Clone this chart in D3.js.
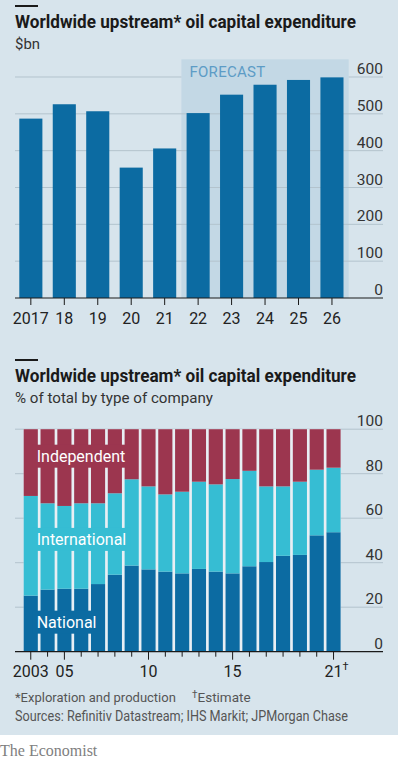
<!DOCTYPE html>
<html>
<head>
<meta charset="utf-8">
<script src="https://cdn.jsdelivr.net/npm/d3@7"></script>
<style>
  body { margin: 0; background: #fff; }
  svg { display: block; font-family: Roboto, "Open Sans", sans-serif; }
</style>
</head>
<body>
<svg id="chart" width="398" height="765"></svg>
<script>
// top chart: $bn by year
var capexYears = ["2017", "18", "19", "20", "21", "22", "23", "24", "25", "26"];
var capexValues = [487, 526, 507, 354, 406, 502, 552, 579, 592, 599];
var forecastYears = ["22", "23", "24", "25", "26"];
var capexTicks = [0, 100, 200, 300, 400, 500, 600];

// bottom chart: % of total by type of company
var shareYears = [2003, 2004, 2005, 2006, 2007, 2008, 2009, 2010, 2011, 2012,
                  2013, 2014, 2015, 2016, 2017, 2018, 2019, 2020, 2021];
var national = [25.2, 27.9, 28.3, 28.3, 30.4, 34.6, 38.7, 37.0, 36.0, 35.2,
                37.2, 36.0, 35.2, 38.4, 40.3, 43.1, 43.5, 52.3, 53.7];
var international = [44.8, 38.8, 37.2, 38.4, 36.3, 36.6, 38.8, 37.3, 34.7, 36.7,
                     39.2, 39.2, 42.4, 42.9, 34.0, 31.2, 32.9, 29.5, 29.0];
var independent = [30.0, 33.3, 34.5, 33.3, 33.3, 28.8, 22.5, 25.7, 29.3, 28.1,
                   23.6, 24.8, 22.4, 18.7, 25.7, 25.7, 23.6, 18.2, 17.3];
var shareTicks = [0, 20, 40, 60, 80, 100];
var shareTickLabels = {2003: "2003", 2005: "05", 2010: "10", 2015: "15", 2021: "21"};

var BG = "#d7e4ec", GRID = "#b3c3cd", DARK = "#1a1a1a";
var BLUE = "#0c6ba2", CYAN = "#36bdd3", RED = "#9c364f";

var svg = d3.select("#chart");
svg.append("rect").attr("width", 398).attr("height", 735).attr("fill", BG);

// squeeze a text to a width, the font is wider than the original
function fit(sel, w) {
  sel.attr("textLength", w).attr("lengthAdjust", "spacingAndGlyphs");
  return sel;
}

function header(top, title, sub, subW) {
  svg.append("rect").attr("x", 15).attr("y", top).attr("width", 23).attr("height", 2).attr("fill", DARK);
  fit(svg.append("text").attr("x", 15).attr("y", top + 23)
    .attr("font-size", 19).attr("font-weight", 700).attr("fill", DARK).text(title), 341);
  fit(svg.append("text").attr("x", 15).attr("y", top + 44)
    .attr("font-size", 15).attr("fill", "#333").text(sub), subW);
}

// ---------- top chart ----------
header(5, "Worldwide upstream* oil capital expenditure", "$bn", 25);

var y1 = d3.scaleLinear().domain([0, 600]).range([298, 77]);
var x1 = d3.scaleBand().domain(capexYears).range([19.3, 343.5]).paddingInner(0.31).paddingOuter(0);
var gap1 = x1.step() - x1.bandwidth();

// forecast shading
var fx0 = x1(forecastYears[0]) - gap1 / 2;
var fx1 = x1(forecastYears[forecastYears.length - 1]) + x1.bandwidth() + gap1 / 2;
svg.append("rect").attr("x", fx0).attr("y", y1(648)).attr("width", fx1 - fx0)
  .attr("height", y1(0) - y1(648)).attr("fill", "#c3d8e5");

var g1 = svg.append("g");
g1.selectAll("line.grid").data(capexTicks.filter(function(d) { return d > 0 && d < 600; })).join("line")
  .attr("x1", 15).attr("x2", 383).attr("y1", function(d) { return y1(d); }).attr("y2", function(d) { return y1(d); })
  .attr("stroke", GRID).attr("stroke-width", 1);
g1.append("line").attr("x1", 15).attr("x2", fx0).attr("y1", y1(600)).attr("y2", y1(600))
  .attr("stroke", GRID);
g1.append("line").attr("x1", fx1).attr("x2", 383).attr("y1", y1(600)).attr("y2", y1(600))
  .attr("stroke", GRID);

g1.append("text").attr("x", fx0 + 8).attr("y", y1(600)).attr("font-size", 15)
  .attr("fill", "#5d9cc6").attr("letter-spacing", 0.3).text("FORECAST");

g1.selectAll("rect.bar").data(capexValues).join("rect")
  .attr("x", function(d, i) { return x1(capexYears[i]); })
  .attr("y", function(d) { return y1(d); })
  .attr("width", x1.bandwidth())
  .attr("height", function(d) { return y1(0) - y1(d); })
  .attr("fill", BLUE);

svg.append("line").attr("x1", 15).attr("x2", 383).attr("y1", y1(0)).attr("y2", y1(0))
  .attr("stroke", DARK).attr("stroke-width", 1.2);

svg.selectAll("text.ylab1").data(capexTicks).join("text").attr("class", "ylab1")
  .attr("x", 383).attr("y", function(d) { return y1(d) - 3; })
  .attr("text-anchor", "end").attr("font-size", 15.5).attr("fill", "#333").text(function(d) { return d; });

svg.selectAll("line.tick1").data(capexYears).join("line").attr("class", "tick1")
  .attr("x1", function(d) { return x1(d) + x1.bandwidth() / 2; })
  .attr("x2", function(d) { return x1(d) + x1.bandwidth() / 2; })
  .attr("y1", y1(0)).attr("y2", y1(0) + 7).attr("stroke", DARK);

svg.selectAll("text.xlab1").data(capexYears).join("text").attr("class", "xlab1")
  .attr("x", function(d) { return x1(d) + x1.bandwidth() / 2; })
  .attr("y", 324).attr("text-anchor", "middle").attr("font-size", 16).attr("fill", "#222")
  .text(function(d) { return d; });

// ---------- bottom chart ----------
header(359, "Worldwide upstream* oil capital expenditure", "% of total by type of company", 198);

var y2 = d3.scaleLinear().domain([0, 100]).range([651.7, 429.2]);
var x2 = d3.scaleBand().domain(shareYears).range([23.7, 340.6]).paddingInner(0.16).paddingOuter(0);

svg.selectAll("line.grid2").data(shareTicks.filter(function(d) { return d > 0; })).join("line").attr("class", "grid2")
  .attr("x1", 15).attr("x2", 383).attr("y1", function(d) { return y2(d); }).attr("y2", function(d) { return y2(d); })
  .attr("stroke", GRID);

// light gaps between the columns
svg.append("rect").attr("x", x2(shareYears[0])).attr("y", y2(100))
  .attr("width", x2(shareYears[shareYears.length - 1]) + x2.bandwidth() - x2(shareYears[0]))
  .attr("height", y2(0) - y2(100)).attr("fill", "#e8eff4");

var rows = shareYears.map(function(yr, i) {
  return { year: yr, national: national[i], international: international[i], independent: independent[i] };
});
var keys = ["national", "international", "independent"];
var colors = { national: BLUE, international: CYAN, independent: RED };
var series = d3.stack().keys(keys)(rows);

var g2 = svg.append("g");
g2.selectAll("g").data(series).join("g")
  .attr("fill", function(s) { return colors[s.key]; })
  .selectAll("rect").data(function(s) { return s; }).join("rect")
  .attr("x", function(d) { return x2(d.data.year); })
  .attr("y", function(d) { return y2(d[1]); })
  .attr("width", x2.bandwidth())
  .attr("height", function(d) { return y2(d[0]) - y2(d[1]); });

// in-chart labels with knock-out boxes
var labels = [
  { text: "Independent", key: "independent", v: 85.4 },
  { text: "International", key: "international", v: 48 },
  { text: "National", key: "national", v: 10.8 }
];
labels.forEach(function(l) {
  var lx = x2(shareYears[0]) + 13;
  var box = svg.append("rect").attr("fill", colors[l.key]);
  var t = svg.append("text").attr("x", lx).attr("y", y2(l.v)).attr("font-size", 16)
    .attr("fill", "#fff").text(l.text);
  var w = t.node().getComputedTextLength();
  box.attr("x", lx - 4).attr("y", y2(l.v) - 17).attr("width", w + 8).attr("height", 23);
});

svg.append("line").attr("x1", 15).attr("x2", 383).attr("y1", y2(0)).attr("y2", y2(0))
  .attr("stroke", DARK).attr("stroke-width", 1.2);

svg.selectAll("text.ylab2").data(shareTicks).join("text").attr("class", "ylab2")
  .attr("x", 383).attr("y", function(d) { return y2(d) - 3; })
  .attr("text-anchor", "end").attr("font-size", 15.5).attr("fill", "#333").text(function(d) { return d; });

svg.selectAll("line.tick2").data(shareYears).join("line").attr("class", "tick2")
  .attr("x1", function(d) { return x2(d) + x2.bandwidth() / 2; })
  .attr("x2", function(d) { return x2(d) + x2.bandwidth() / 2; })
  .attr("y1", y2(0)).attr("y2", function(d) { return y2(0) + (shareTickLabels[d] ? 8 : 5); })
  .attr("stroke", DARK);

svg.selectAll("text.xlab2").data(shareYears.filter(function(d) { return shareTickLabels[d]; })).join("text")
  .attr("class", "xlab2")
  .attr("x", function(d) { return x2(d) + x2.bandwidth() / 2; })
  .attr("y", 677).attr("text-anchor", "middle").attr("font-size", 16).attr("fill", "#222")
  .text(function(d) { return shareTickLabels[d]; });
svg.append("text").attr("x", x2(2021) + x2.bandwidth() / 2 + 9).attr("y", 670)
  .attr("font-size", 11).attr("fill", "#222").text("\u2020");

// footnotes
svg.append("text").attr("x", 15).attr("y", 702).attr("font-size", 13).attr("fill", "#555")
  .text("*Exploration and production");
var est = svg.append("text").attr("x", 192).attr("y", 702).attr("font-size", 13.5).attr("fill", "#555");
est.append("tspan").attr("dy", -4).attr("font-size", 10).text("\u2020");
est.append("tspan").attr("dy", 4).text("Estimate");
fit(svg.append("text").attr("x", 15).attr("y", 721).attr("font-size", 14.5).attr("fill", "#555")
  .text("Sources: Refinitiv Datastream; IHS Markit; JPMorgan Chase"), 333);

svg.append("text").attr("x", 0).attr("y", 756)
  .attr("font-family", "'Liberation Serif', 'DejaVu Serif', serif").attr("font-size", 16)
  .attr("fill", "#808080").text("The Economist");
</script>
</body>
</html>
